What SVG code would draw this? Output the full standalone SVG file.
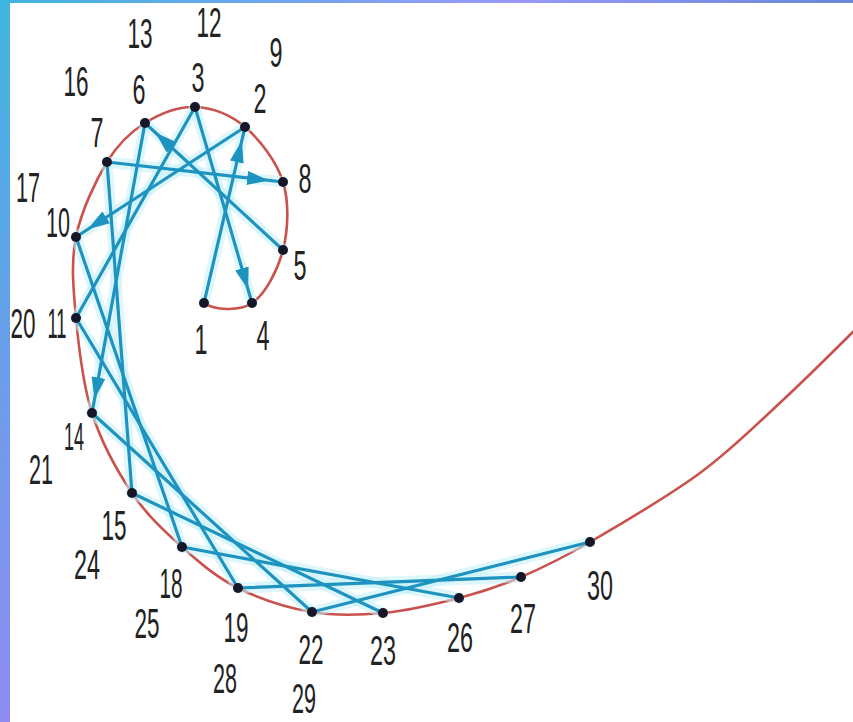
<svg xmlns="http://www.w3.org/2000/svg" width="853" height="722" viewBox="0 0 853 722">
<defs>
<linearGradient id="gl" x1="0" y1="0" x2="0" y2="1">
<stop offset="0" stop-color="#3fb4e0"/>
<stop offset="0.5" stop-color="#6a9eea"/>
<stop offset="1" stop-color="#8e8cf2"/>
</linearGradient>
<linearGradient id="gt" x1="0" y1="0" x2="1" y2="0">
<stop offset="0" stop-color="#3fb4e0"/>
<stop offset="0.6" stop-color="#9a98f6"/>
<stop offset="1" stop-color="#6888d6"/>
</linearGradient>
<marker id="arr" markerUnits="userSpaceOnUse" markerWidth="22" markerHeight="14" viewBox="0 0 22 14" refX="36" refY="7" orient="auto">
<path d="M0,0 L22,7 L0,14 z" fill="#1f93bf"/>
</marker>
</defs>
<style>
.curve{fill:none;stroke:#c9524c;stroke-width:2.6}
.glow line{stroke:#c4f1fa;stroke-width:11;stroke-linecap:round;opacity:0.55}
.str line{stroke:#1f93bf;stroke-width:3.2;stroke-linecap:round}
.a{marker-end:url(#arr)}
.pt{fill:#161628}
text{font-family:"Liberation Sans",Arial,sans-serif;font-size:42px;fill:#222;text-anchor:middle}
</style>
<rect x="0" y="0" width="853" height="722" fill="#ffffff"/>
<rect x="0" y="0" width="853" height="3" fill="url(#gt)"/>
<rect x="0" y="0" width="10" height="722" fill="url(#gl)"/>

<g id="curve">
<path class="curve" d="M204,303 C214,310 238.8,311.8 252,303 C265.2,294.2 277.8,270.2 283,250 C288.2,229.8 289.3,202.5 283,182 C276.7,161.5 259.7,139.5 245,127 C230.3,114.5 211.7,107.7 195,107 C178.3,106.3 159.7,113.8 145,123 C130.3,132.2 118.5,143 107,162 C95.5,181 81.2,211 76,237 C70.8,263 73.3,288.7 76,318 C78.7,347.3 82.7,383.8 92,413 C101.3,442.2 117,470.7 132,493 C147,515.3 164.3,531.2 182,547 C199.7,562.8 216.3,577.2 238,588 C259.7,598.8 287.8,607.8 312,612 C336.2,616.2 358.5,615.3 383,613 C407.5,610.7 436,604 459,598 C482,592 499.2,586.3 521,577 C542.8,567.7 560.2,559.3 590,542 C619.8,524.7 667.8,496.7 700,473 C732.2,449.3 756.3,424.7 783,400 C809.7,375.3 847.2,337.5 860,325"/>
</g>

<g id="connectors">
<g class="glow">
<line x1="204" y1="303" x2="245" y2="127"/>
<line x1="195" y1="107" x2="252" y2="303"/>
<line x1="283" y1="250" x2="145" y2="123"/>
<line x1="107" y1="162" x2="283" y2="182"/>
<line x1="245" y1="127" x2="76" y2="237"/>
<line x1="76" y1="318" x2="195" y2="107"/>
<line x1="145" y1="123" x2="92" y2="413"/>
<line x1="132" y1="493" x2="107" y2="162"/>
<line x1="76" y1="237" x2="182" y2="547"/>
<line x1="238" y1="588" x2="76" y2="318"/>
<line x1="92" y1="413" x2="312" y2="612"/>
<line x1="383" y1="613" x2="132" y2="493"/>
<line x1="182" y1="547" x2="459" y2="598"/>
<line x1="521" y1="577" x2="238" y2="588"/>
<line x1="312" y1="612" x2="590" y2="542"/>
</g>
<g class="str">
<line class="a" x1="204" y1="303" x2="245" y2="127"/>
<line class="a" x1="195" y1="107" x2="252" y2="303"/>
<line class="a" x1="283" y1="250" x2="145" y2="123"/>
<line class="a" x1="107" y1="162" x2="283" y2="182"/>
<line class="a" x1="245" y1="127" x2="76" y2="237"/>
<line x1="76" y1="318" x2="195" y2="107"/>
<line class="a" x1="145" y1="123" x2="92" y2="413"/>
<line x1="132" y1="493" x2="107" y2="162"/>
<line x1="76" y1="237" x2="182" y2="547"/>
<line x1="238" y1="588" x2="76" y2="318"/>
<line x1="92" y1="413" x2="312" y2="612"/>
<line x1="383" y1="613" x2="132" y2="493"/>
<line x1="182" y1="547" x2="459" y2="598"/>
<line x1="521" y1="577" x2="238" y2="588"/>
<line x1="312" y1="612" x2="590" y2="542"/>
</g>
</g>

<g id="node-1"><circle class="pt" cx="204" cy="303" r="5"/><text x="201" y="354" textLength="13" lengthAdjust="spacingAndGlyphs">1</text></g>
<g id="node-4"><circle class="pt" cx="252" cy="303" r="5"/><text x="263" y="350" textLength="13" lengthAdjust="spacingAndGlyphs">4</text></g>
<g id="node-5"><circle class="pt" cx="283" cy="250" r="5"/><text x="300" y="280" textLength="13" lengthAdjust="spacingAndGlyphs">5</text></g>
<g id="node-8"><circle class="pt" cx="283" cy="182" r="5"/><text x="305" y="193" textLength="13" lengthAdjust="spacingAndGlyphs">8</text></g>
<g id="node-2"><circle class="pt" cx="245" cy="127" r="5"/><text x="260" y="113" textLength="13" lengthAdjust="spacingAndGlyphs">2</text><text x="276" y="67" textLength="13" lengthAdjust="spacingAndGlyphs">9</text></g>
<g id="node-3"><circle class="pt" cx="195" cy="107" r="5"/><text x="198" y="92" textLength="13" lengthAdjust="spacingAndGlyphs">3</text><text x="209" y="37" textLength="25" lengthAdjust="spacingAndGlyphs">12</text></g>
<g id="node-6"><circle class="pt" cx="145" cy="123" r="5"/><text x="139" y="104" textLength="13" lengthAdjust="spacingAndGlyphs">6</text><text x="140" y="48" textLength="25" lengthAdjust="spacingAndGlyphs">13</text></g>
<g id="node-7"><circle class="pt" cx="107" cy="162" r="5"/><text x="97" y="147" textLength="13" lengthAdjust="spacingAndGlyphs">7</text><text x="76" y="96" textLength="25" lengthAdjust="spacingAndGlyphs">16</text></g>
<g id="node-10"><circle class="pt" cx="76" cy="237" r="5"/><text x="58" y="237" textLength="24" lengthAdjust="spacingAndGlyphs">10</text><text x="28" y="202" textLength="24" lengthAdjust="spacingAndGlyphs">17</text></g>
<g id="node-11"><circle class="pt" cx="76" cy="318" r="5"/><text x="57" y="338" textLength="19" lengthAdjust="spacingAndGlyphs">11</text><text x="23" y="338" textLength="25" lengthAdjust="spacingAndGlyphs">20</text></g>
<g id="node-14"><circle class="pt" cx="92" cy="413" r="5"/><text x="74" y="450" textLength="20" lengthAdjust="spacingAndGlyphs" style="font-size:38px">14</text><text x="41" y="484" textLength="24" lengthAdjust="spacingAndGlyphs">21</text></g>
<g id="node-15"><circle class="pt" cx="132" cy="493" r="5"/><text x="114" y="540" textLength="25" lengthAdjust="spacingAndGlyphs">15</text><text x="87" y="579" textLength="26" lengthAdjust="spacingAndGlyphs">24</text></g>
<g id="node-18"><circle class="pt" cx="182" cy="547" r="5"/><text x="171" y="598" textLength="23" lengthAdjust="spacingAndGlyphs">18</text><text x="147" y="638" textLength="25" lengthAdjust="spacingAndGlyphs">25</text></g>
<g id="node-19"><circle class="pt" cx="238" cy="588" r="5"/><text x="236" y="642" textLength="25" lengthAdjust="spacingAndGlyphs">19</text><text x="225" y="693" textLength="24" lengthAdjust="spacingAndGlyphs">28</text></g>
<g id="node-22"><circle class="pt" cx="312" cy="612" r="5"/><text x="311" y="664" textLength="25" lengthAdjust="spacingAndGlyphs">22</text><text x="304" y="713" textLength="24" lengthAdjust="spacingAndGlyphs">29</text></g>
<g id="node-23"><circle class="pt" cx="383" cy="613" r="5"/><text x="383" y="665" textLength="26" lengthAdjust="spacingAndGlyphs">23</text></g>
<g id="node-26"><circle class="pt" cx="459" cy="598" r="5"/><text x="460" y="652" textLength="26" lengthAdjust="spacingAndGlyphs">26</text></g>
<g id="node-27"><circle class="pt" cx="521" cy="577" r="5"/><text x="523" y="633" textLength="26" lengthAdjust="spacingAndGlyphs">27</text></g>
<g id="node-30"><circle class="pt" cx="590" cy="542" r="5"/><text x="600" y="600" textLength="26" lengthAdjust="spacingAndGlyphs">30</text></g>
</svg>
